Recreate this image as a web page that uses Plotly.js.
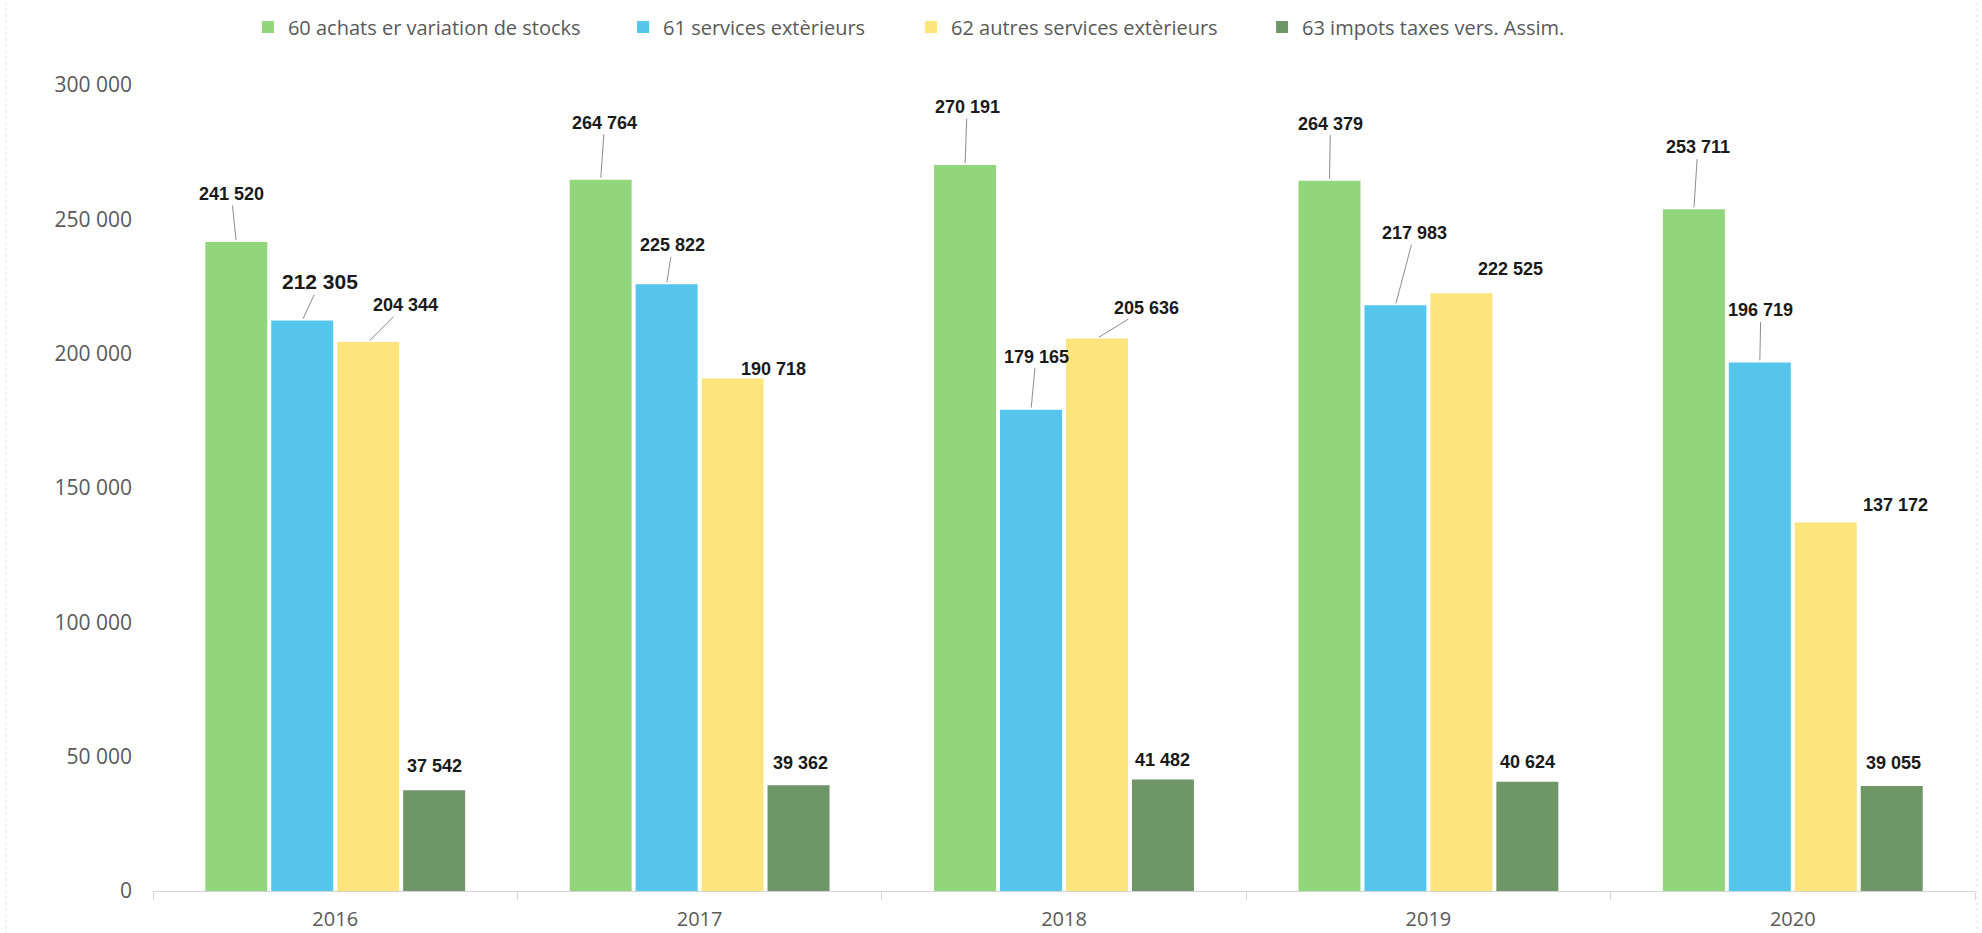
<!DOCTYPE html>
<html>
<head>
<meta charset="utf-8">
<script src="https://cdn.plot.ly/plotly-3.0.1.min.js"></script>
<style>html,body{margin:0;padding:0;background:#fff;}#chart{width:1982px;height:933px;}</style>
</head>
<body>
<div id="chart"></div>
<script>
// ---- data ----
const years = ['2016', '2017', '2018', '2019', '2020'];
const seriesNames = [
  '60 achats er variation de stocks',
  '61 services extèrieurs',
  '62 autres services extèrieurs',
  '63 impots taxes vers. Assim.'
];
const achats60 = [241520, 264764, 270191, 264379, 253711];
const services61 = [212305, 225822, 179165, 217983, 196719];
const autres62 = [204344, 190718, 205636, 222525, 137172];
const impots63 = [37542, 39362, 41482, 40624, 39055];

// ---- styling ----
const colors = ['#92D67C', '#55C5EC', '#FDE47C', '#6F9667'];
const allSeries = [achats60, services61, autres62, impots63];
// label offsets (pixels) relative to the top centre of each bar: [ax, ay, leader?]
const labelStyle = [
  [[-5,-48,1],[4,-57,1],[2,-58,1],[1,-57,1],[4,-62,1]],
  [[18,-39,1],[6,-39,1],[5,-53,1],[19,-72,1],[1,-52,1]],
  [[37,-37,1],[41,-10,0],[50,-31,1],[49,-24,0],[70,-17,0]],
  [[0,-24,0],[2,-22,0],[0,-20,0],[0,-20,0],[2,-23,0]]
];
// legend entry positions (paper x) – one legend per series
const legendX = [0.0521, 0.2580, 0.4160, 0.6087];
const legendIds = ['legend', 'legend2', 'legend3', 'legend4'];
const bargap = 0.276;
const slot = (1 - bargap) / 4;

function fmt(v) { return String(v).replace(/\B(?=(\d{3})+(?!\d))/g, ' '); }

const traces = allSeries.map((vals, j) => ({
  type: 'bar',
  name: seriesNames[j],
  x: years,
  y: vals,
  legend: legendIds[j],
  marker: { color: colors[j], line: { width: 0 } },
  hoverinfo: 'skip'
}));

const annotations = [];
allSeries.forEach((vals, j) => {
  vals.forEach((v, i) => {
    const st = labelStyle[j][i];
    annotations.push({
      x: i + (j - 1.5) * slot,
      y: v,
      xref: 'x', yref: 'y',
      text: fmt(v),
      showarrow: true,
      arrowhead: 0,
      arrowwidth: 1,
      arrowcolor: st[2] ? '#8c8c8c' : 'rgba(0,0,0,0)',
      standoff: 2,
      startstandoff: 0,
      ax: st[0], ay: st[1],
      font: { family: 'Liberation Sans, Arial, sans-serif', size: (j === 1 && i === 0) ? 21 : 18, color: '#1a1a1a', weight: 'bold' }
    });
  });
});

const layout = {
  width: 1982, height: 933,
  margin: { l: 153, r: 7, t: 83, b: 42 },
  paper_bgcolor: '#ffffff', plot_bgcolor: '#ffffff',
  barmode: 'group',
  bargap: bargap,
  bargroupgap: 0.06,
  separators: ', ',
  showlegend: true,
  xaxis: {
    type: 'category',
    showgrid: false,
    showline: true, linecolor: '#d4d4d4', linewidth: 1,
    ticks: 'outside', tickson: 'boundaries', ticklen: 8, tickcolor: '#d4d4d4',
    tickfont: { family: 'Open Sans, sans-serif', size: 20, color: '#595959' },
    ticklabelstandoff: 10,
    zeroline: false
  },
  yaxis: {
    range: [0, 300000],
    dtick: 50000,
    tickformat: ',d',
    showgrid: false, zeroline: false, showline: false,
    ticks: '',
    ticklabelstandoff: 20,
    tickfont: { family: 'Open Sans, sans-serif', size: 21, color: '#595959' }
  },
  shapes: [{
    type: 'rect', xref: 'paper', yref: 'paper',
    x0: -0.0807, x1: 1.0011, y0: -0.2, y1: 1.3,
    line: { color: '#e2e2e2', width: 1, dash: 'dot' }
  }],
  annotations: annotations
};
legendIds.forEach((id, j) => {
  layout[id] = {
    orientation: 'h',
    x: legendX[j], xanchor: 'left',
    y: 1.072, yanchor: 'middle',
    bgcolor: 'rgba(0,0,0,0)',
    font: { family: 'Open Sans, sans-serif', size: 20, color: '#595959' },
    itemclick: false
  };
});

Plotly.newPlot('chart', traces, layout, { displayModeBar: false, staticPlot: true });
</script>
</body>
</html>
